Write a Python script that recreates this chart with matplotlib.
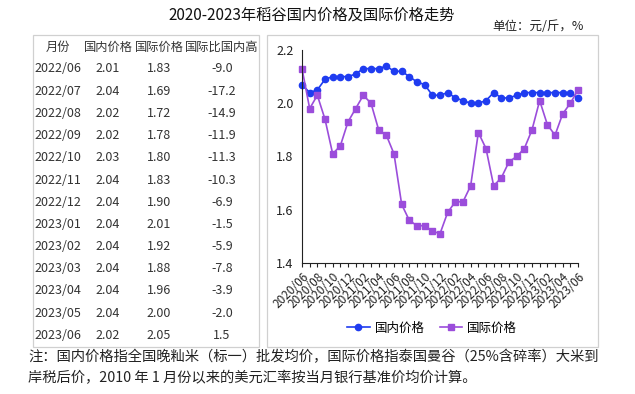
import matplotlib
matplotlib.use('Agg')
import matplotlib.pyplot as plt
from matplotlib.patches import Rectangle
import numpy as np

plt.rcParams['font.family'] = ['Noto Sans CJK SC', 'DejaVu Sans']

# 图表数据：2020/06 - 2023/06 月度价格（元/斤）
months = ['2020/06', '2020/07', '2020/08', '2020/09', '2020/10', '2020/11', '2020/12',
          '2021/01', '2021/02', '2021/03', '2021/04', '2021/05', '2021/06', '2021/07',
          '2021/08', '2021/09', '2021/10', '2021/11', '2021/12', '2022/01', '2022/02',
          '2022/03', '2022/04', '2022/05', '2022/06', '2022/07', '2022/08', '2022/09',
          '2022/10', '2022/11', '2022/12', '2023/01', '2023/02', '2023/03', '2023/04',
          '2023/05', '2023/06']
domestic = [2.07, 2.04, 2.05, 2.09, 2.10, 2.10, 2.10, 2.11, 2.13, 2.13, 2.13, 2.14,
            2.12, 2.12, 2.10, 2.08, 2.07, 2.03, 2.03, 2.04, 2.02, 2.01, 2.00, 2.00,
            2.01, 2.04, 2.02, 2.02, 2.03, 2.04, 2.04, 2.04, 2.04, 2.04, 2.04, 2.04, 2.02]
international = [2.13, 1.98, 2.03, 1.94, 1.81, 1.84, 1.93, 1.98, 2.03, 2.00, 1.90, 1.88,
                 1.81, 1.62, 1.56, 1.54, 1.54, 1.52, 1.51, 1.59, 1.63, 1.63, 1.69, 1.89,
                 1.83, 1.69, 1.72, 1.78, 1.80, 1.83, 1.90, 2.01, 1.92, 1.88, 1.96, 2.00, 2.05]

# 左侧表格
table_header = ['月份', '国内价格', '国际价格', '国际比国内高']
table_months = ['2022/06', '2022/07', '2022/08', '2022/09', '2022/10', '2022/11', '2022/12',
                '2023/01', '2023/02', '2023/03', '2023/04', '2023/05', '2023/06']
table_domestic = ['2.01', '2.04', '2.02', '2.02', '2.03', '2.04', '2.04',
                  '2.04', '2.04', '2.04', '2.04', '2.04', '2.02']
table_intl = ['1.83', '1.69', '1.72', '1.78', '1.80', '1.83', '1.90',
              '2.01', '1.92', '1.88', '1.96', '2.00', '2.05']
table_diff = ['-9.0', '-17.2', '-14.9', '-11.9', '-11.3', '-10.3', '-6.9',
              '-1.5', '-5.9', '-7.8', '-3.9', '-2.0', '1.5']

W, H = 635, 394
fig = plt.figure(figsize=(W / 100, H / 100), dpi=100)


def fx(px):
    return px / W


def fy(py):
    return 1 - py / H


# 标题和单位
fig.text(fx(312), fy(15), '2020-2023年稻谷国内价格及国际价格走势', ha='center', va='center',
         fontsize=11, color='#111111')
fig.text(fx(538), fy(27), '单位：元/斤，%', ha='center', va='center', fontsize=9, color='#222222')

# 两个边框
for x0, x1 in [(33, 259), (267, 598)]:
    fig.add_artist(Rectangle((fx(x0), fy(347)), fx(x1) - fx(x0), fy(35) - fy(347),
                             transform=fig.transFigure, fill=False, edgecolor='#d0d0d0', lw=0.9))

# 表格文字
col_x = [58, 108, 159, 222]
for cx, h in zip(col_x, table_header):
    fig.text(fx(cx), fy(47), h, ha='center', va='center', fontsize=8.8, color='#333333')
for i in range(len(table_months)):
    y = fy(69 + 22.2 * i)
    row = [table_months[i], table_domestic[i], table_intl[i], table_diff[i]]
    for cx, val in zip(col_x, row):
        fig.text(fx(cx), y, val, ha='center', va='center', fontsize=9, color='#333333')

# 折线图
ax = fig.add_axes([fx(302), fy(263), fx(578) - fx(302), fy(50) - fy(263)])
x = np.arange(len(months))
ax.plot(x, domestic, color='#1f3cf0', lw=1.2, marker='o', ms=4.5, clip_on=False, label='国内价格')
ax.plot(x, international, color='#9b4ddb', lw=1.2, marker='s', ms=4, clip_on=False, label='国际价格')
ax.set_xlim(0, len(months) - 1)
ax.set_ylim(1.4, 2.2)
ax.set_yticks([1.4, 1.6, 1.8, 2.0, 2.2])
ax.set_yticklabels(['1.4', '1.6', '1.8', '2.0', '2.2'])
ax.set_xticks(x)
ax.set_xticklabels([m if i % 2 == 0 else '' for i, m in enumerate(months)],
                   rotation=45, ha='right', rotation_mode='anchor')
ax.tick_params(axis='y', length=0, labelsize=9, pad=6, colors='#222222')
ax.tick_params(axis='x', length=3, width=0.8, labelsize=8.5, pad=2, colors='#222222')
ax.spines['top'].set_visible(False)
ax.spines['right'].set_visible(False)
ax.spines['left'].set_color('#222222')
ax.spines['bottom'].set_color('#222222')

fig.legend(loc='center', bbox_to_anchor=(fx(432), fy(328)), ncol=2, frameon=False,
           fontsize=9, handlelength=1.8, columnspacing=1.2, handletextpad=0.4)

# 注释
fig.text(fx(28), fy(357), '注：国内价格指全国晚籼米（标一）批发均价，国际价格指泰国曼谷（25%含碎率）大米到',
         ha='left', va='center', fontsize=10.3, color='#222222')
fig.text(fx(28), fy(378), '岸税后价，2010 年 1 月份以来的美元汇率按当月银行基准价均价计算。',
         ha='left', va='center', fontsize=10.3, color='#222222')

fig.savefig('out.png', dpi=100)
